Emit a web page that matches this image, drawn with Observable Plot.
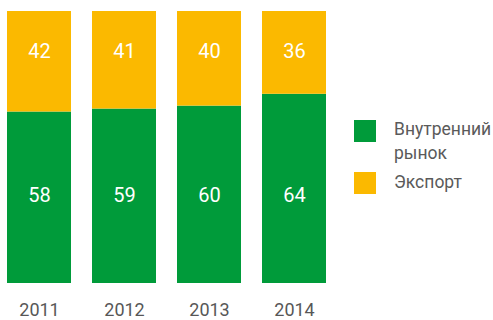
<!DOCTYPE html>
<html>
<head>
<meta charset="utf-8">
<script src="https://cdn.jsdelivr.net/npm/d3@7"></script>
<script src="https://cdn.jsdelivr.net/npm/@observablehq/plot@0.6"></script>
<style>
  body { margin: 0; background: #fff; }
  #wrap { position: relative; width: 493px; height: 320px; overflow: hidden; font-family: Roboto, sans-serif; }
  #chart { position: absolute; left: 0; top: 0; }
  .leg { position: absolute; font-size: 17.5px; line-height: 24px; color: #5a5a5a; white-space: nowrap; }
  .sw { position: absolute; width: 22px; height: 22px; }
</style>
</head>
<body>
<div id="wrap">
  <div id="chart"></div>
</div>
<script>
const years = ["2011", "2012", "2013", "2014"];
const domestic = [58, 59, 60, 64];
const exportShare = [42, 41, 40, 36];
const seriesNames = ["Внутренний рынок", "Экспорт"];
const seriesColors = ["#009b3a", "#fbb900"];

const rows = [];
years.forEach((y, i) => {
  rows.push({year: y, series: seriesNames[0], value: domestic[i]});
  rows.push({year: y, series: seriesNames[1], value: exportShare[i]});
});

const chart = Plot.plot({
  width: 333,
  height: 320,
  marginLeft: 0,
  marginRight: 0,
  marginTop: 11,
  marginBottom: 37,
  style: {fontFamily: "Roboto, sans-serif", background: "transparent"},
  x: {domain: years, paddingInner: 0.247, paddingOuter: 0.082, label: null},
  y: {domain: [0, 92], clamp: true, axis: null},
  color: {domain: seriesNames, range: seriesColors},
  marks: [
    Plot.barY(rows, {x: "year", y: "value", fill: "series", order: seriesNames}),
    Plot.text(rows.filter(d => d.series === seriesNames[0]), {
      x: "year", y: () => 29.6, text: d => String(d.value),
      fill: "#fff", fontSize: 20
    }),
    Plot.text(rows.filter(d => d.series === seriesNames[1]), {
      x: "year", y: () => 78.6, text: d => String(d.value),
      fill: "#fff", fontSize: 20
    }),
    Plot.axisX({tickSize: 0, tickPadding: 20, fontSize: 18, fill: "#575757", label: null})
  ]
});
document.getElementById("chart").appendChild(chart);

// legend
const wrap = document.getElementById("wrap");
const legendTops = [120, 172];
const legendTextTops = [117, 170];
seriesNames.forEach((name, i) => {
  const sw = document.createElement("div");
  sw.className = "sw";
  sw.style.left = "354px";
  sw.style.top = legendTops[i] + "px";
  sw.style.background = seriesColors[i];
  wrap.appendChild(sw);
  const t = document.createElement("div");
  t.className = "leg";
  t.style.left = "394px";
  t.style.top = legendTextTops[i] + "px";
  t.innerHTML = name.replace(" ", "<br>");
  wrap.appendChild(t);
});
</script>
</body>
</html>
